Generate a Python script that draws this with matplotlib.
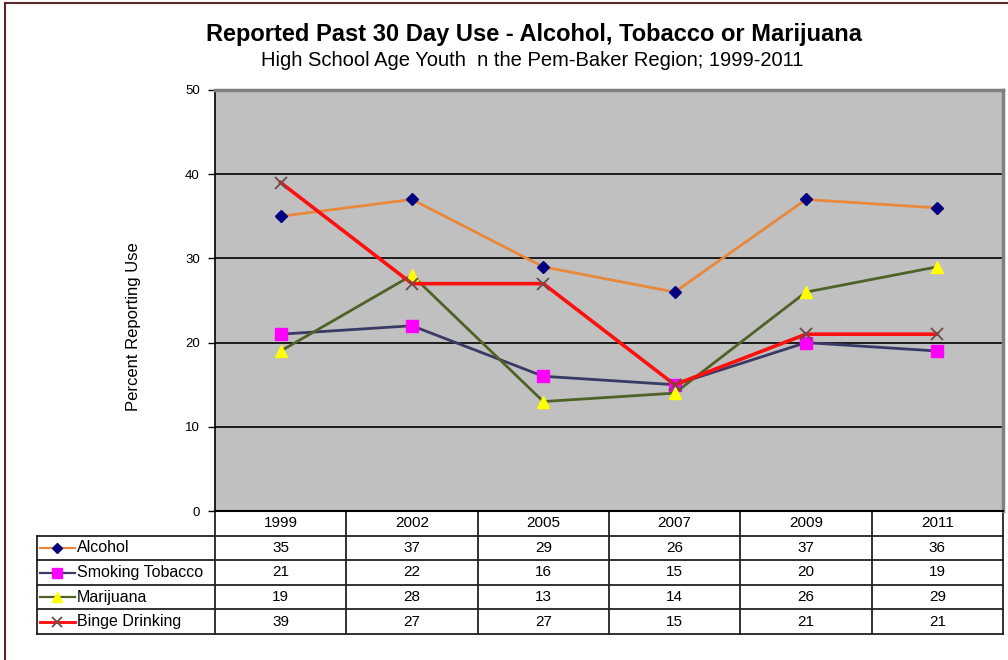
import matplotlib as mpl
mpl.use('Agg')
import matplotlib.pyplot as plt  # noqa
from matplotlib.lines import Line2D
from matplotlib.transforms import blended_transform_factory

plt.rcParams['font.family'] = ['Liberation Sans', 'DejaVu Sans']

years = ['1999', '2002', '2005', '2007', '2009', '2011']
series = ['Alcohol', 'Smoking Tobacco', 'Marijuana', 'Binge Drinking']
alcohol = [35, 37, 29, 26, 37, 36]
tobacco = [21, 22, 16, 15, 20, 19]
marijuana = [19, 28, 13, 14, 26, 29]
binge = [39, 27, 27, 15, 21, 21]

styles = [
    dict(color='#E8883A', lw=2.0, marker='D', ms=6.5, mfc='#000080', mec='#000080'),
    dict(color='#3A3A66', lw=2.0, marker='s', ms=9, mfc='#FF00FF', mec='#FF00FF'),
    dict(color='#4F6228', lw=2.0, marker='^', ms=9, mfc='#FFFF00', mec='#FFFF00'),
    dict(color='#FF1010', lw=2.6, marker='x', ms=8, mfc='none', mec='#6E4A4A', mew=1.3),
]

fig = plt.figure(figsize=(10.08, 6.6), dpi=100)
ax = fig.add_axes([215 / 1008, 1 - 511 / 660, 788 / 1008, 421 / 660])
ax.set_facecolor('#C0C0C0')

x = list(range(len(years)))
for vals, st in zip([alcohol, tobacco, marijuana, binge], styles):
    ax.plot(x, vals, zorder=3, **st)

ax.set_xlim(-0.5, len(years) - 0.5)
ax.set_ylim(0, 50)
ax.set_yticks([0, 10, 20, 30, 40, 50])
ax.tick_params(axis='y', direction='out', length=5, width=1, labelsize=9.5, pad=6)
ax.set_xticks([])
for v in [10, 20, 30, 40]:
    ax.axhline(v, color='black', lw=1.2, zorder=1)
ax.spines['left'].set_color('black')
ax.spines['left'].set_linewidth(1.2)
for s in ['top', 'right']:
    ax.spines[s].set_color('#808080')
    ax.spines[s].set_linewidth(2.5)
ax.spines['bottom'].set_color('black')
ax.spines['bottom'].set_linewidth(1.5)
ax.set_ylabel('Percent Reporting Use', fontsize=12)
ax.yaxis.set_label_coords(-74 / 788, (511 - 327) / 421)

# data table under the plot
tr = blended_transform_factory(ax.transData, ax.transAxes)
row_h = 24.6 / 421
n_rows = len(series) + 1
left_x = -0.5 - 178 / 131.3
bottom_y = -n_rows * row_h
for i in range(len(years) + 1):
    ax.add_line(Line2D([i - 0.5, i - 0.5], [0, bottom_y], transform=tr,
                       color='#222222', lw=1.3, clip_on=False))
ax.add_line(Line2D([left_x, left_x], [-row_h, bottom_y], transform=tr,
                   color='#222222', lw=1.3, clip_on=False))
for r in range(1, n_rows + 1):
    ax.add_line(Line2D([left_x, len(years) - 0.5], [-r * row_h, -r * row_h],
                       transform=tr, color='#222222', lw=1.3, clip_on=False))
for i, yr in enumerate(years):
    ax.text(i, -0.5 * row_h, yr, transform=tr, ha='center', va='center',
            fontsize=11)
for r, (name, vals, st) in enumerate(zip(series,
                                         [alcohol, tobacco, marijuana, binge],
                                         styles)):
    yc = -(r + 1.5) * row_h
    for i, v in enumerate(vals):
        ax.text(i, yc, str(v), transform=tr, ha='center', va='center',
                fontsize=11)
    kx0 = left_x + 3 / 131.3
    kx1 = left_x + 38 / 131.3
    ax.add_line(Line2D([kx0, kx1], [yc, yc], transform=tr, clip_on=False,
                       color=st['color'], lw=st['lw'] * 0.8))
    ax.add_line(Line2D([(kx0 + kx1) / 2], [yc], transform=tr, clip_on=False,
                       marker=st['marker'], ms=st['ms'] * 0.85, mfc=st['mfc'],
                       mec=st['mec'], mew=st.get('mew', 1), ls='none'))
    ax.text(left_x + 40 / 131.3, yc, name, transform=tr, ha='left',
            va='center', fontsize=11.5)

fig.text(534 / 1008, 1 - 34 / 660, 'Reported Past 30 Day Use - Alcohol, Tobacco or Marijuana',
         ha='center', va='center', fontsize=17, fontweight='bold')
fig.text(532 / 1008, 1 - 61 / 660, 'High School Age Youth  n the Pem-Baker Region; 1999-2011',
         ha='center', va='center', fontsize=14.5)

# outer frame
fig.add_artist(Line2D([5 / 1008, 1], [1 - 3 / 660, 1 - 3 / 660],
                      transform=fig.transFigure, color='#5A2A2A', lw=1.5))
fig.add_artist(Line2D([5 / 1008, 5 / 1008], [0, 1 - 3 / 660],
                      transform=fig.transFigure, color='#5A2A2A', lw=1.5))

fig.savefig('out.png', dpi=100)
